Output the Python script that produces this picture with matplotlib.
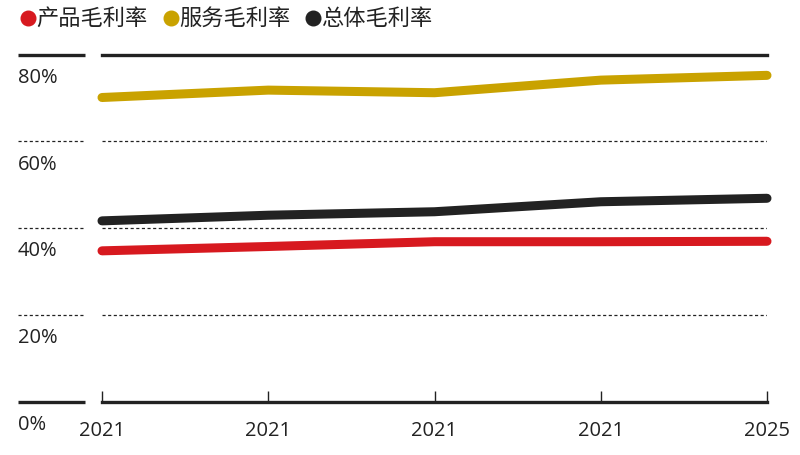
# -*- coding: utf-8 -*-
"""产品 / 服务 / 总体毛利率 折线图"""
import matplotlib
matplotlib.use('Agg')
import matplotlib.pyplot as plt
import matplotlib.transforms as mtrans
from matplotlib.lines import Line2D

plt.rcParams['font.family'] = ['Open Sans', 'Noto Sans CJK SC', 'DejaVu Sans']

# 数据（从图上读取，单位 %）
years = ['2021', '2021', '2021', '2021', '2025']
product_margin = [34.8, 35.8, 36.9, 36.9, 37.0]
service_margin = [70.1, 71.8, 71.2, 74.1, 75.2]
overall_margin = [41.7, 43.0, 43.8, 46.1, 46.9]
y_ticks = [0, 20, 40, 60, 80]
y_labels = ['0%', '20%', '40%', '60%', '80%']

series_names = ['产品毛利率', '服务毛利率', '总体毛利率']
COLORS = ['#D7191F', '#C9A200', '#222222']
INK = '#222222'

W, H = 800, 456
fig = plt.figure(figsize=(8, 4.56), dpi=100)
fig.patch.set_facecolor('white')

# 绘图区：x 102~767 px，y 0% 在 403 px，80% 在 55.5 px
left, right = 102 / W, 767 / W
bottom, top = (H - 403) / H, (H - 55.5) / H
ax = fig.add_axes([left, bottom, right - left, top - bottom])

x = list(range(len(years)))
for vals, c in zip([service_margin, overall_margin, product_margin],
                   [COLORS[1], COLORS[2], COLORS[0]]):
    ax.plot(x, vals, color=c, linewidth=6.5, solid_capstyle='round',
            clip_on=False, zorder=3)

ax.set_xlim(0, len(years) - 1)
ax.set_ylim(0, 80)

# 网格线
for t in y_ticks[1:-1]:
    ax.axhline(t, color=INK, linewidth=0.9, linestyle=(0, (2.5, 2)), zorder=1)
ax.axhline(80, color=INK, linewidth=2.4, clip_on=False, zorder=2)

# 左侧标签区的短线和文字
trans = mtrans.blended_transform_factory(ax.transAxes, ax.transData)
lx0 = (18 - 102) / (767 - 102)
lx1 = (85 - 102) / (767 - 102)
for t, lab in zip(y_ticks, y_labels):
    if t in (0, 80):
        ax.plot([lx0, lx1], [t, t], color=INK, linewidth=2.4, transform=trans,
                clip_on=False, solid_capstyle='butt')
    else:
        ax.plot([lx0, lx1], [t, t], color=INK, linewidth=0.9,
                linestyle=(0, (2.5, 2)), transform=trans, clip_on=False)
    ax.text(lx0, t - 2.8, lab, transform=trans, ha='left', va='top',
            fontsize=14.5, color=INK)

for s in ['left', 'right', 'top']:
    ax.spines[s].set_visible(False)
ax.spines['bottom'].set_color(INK)
ax.spines['bottom'].set_linewidth(2.4)
ax.set_yticks([])
ax.set_xticks(x)
ax.set_xticklabels(years)
ax.tick_params(axis='x', direction='in', length=8, width=1, color=INK,
               labelsize=14.5, labelcolor=INK, pad=13)

# 图例
lx = [27.5, 171, 312.5]
for px, name, c in zip(lx, series_names, COLORS):
    fig.add_artist(Line2D([px / W], [(H - 19) / H], marker='o',
                          markersize=10.5, color=c, linestyle='none',
                          transform=fig.transFigure))
    fig.text((px + 8.5) / W, (H - 19.5) / H, name, ha='left', va='center',
             fontsize=16, color=INK)

plt.savefig('out.png', dpi=100, facecolor='white')
plt.close()
